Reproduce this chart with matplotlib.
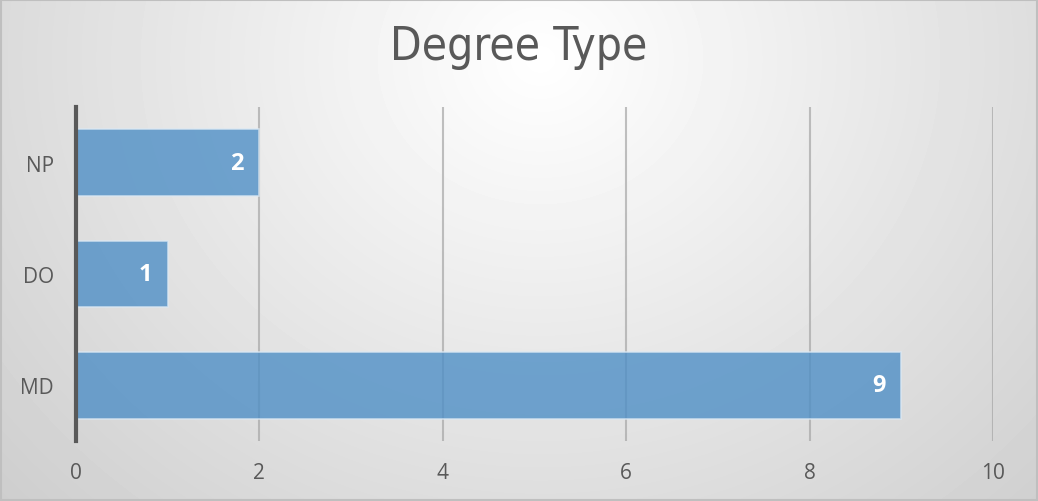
import numpy as np
import matplotlib
matplotlib.use("Agg")
import matplotlib.pyplot as plt

# ---------------------------------------------------------------------
# Data
# ---------------------------------------------------------------------
categories = ["MD", "DO", "NP"]
counts = [9, 1, 2]
x_ticks = [0, 2, 4, 6, 8, 10]

text_color = "#595959"

# ---------------------------------------------------------------------
# Figure + radial background
# ---------------------------------------------------------------------
fig = plt.figure(figsize=(10.38, 5.02), dpi=100)

bg = fig.add_axes([0, 0, 1, 1], zorder=0)
yy, xx = np.mgrid[0:502, 0:1038]
r = np.sqrt(((xx - 540) / 720.0) ** 2 + ((yy - 60) / 640.0) ** 2)
shade = 1.0 - 0.19 * np.clip(r, 0, 1.2)
bg.imshow(shade, cmap="gray", vmin=0, vmax=1, aspect="auto",
          extent=[0, 1, 0, 1], interpolation="bilinear")
bg.set_xlim(0, 1)
bg.set_ylim(0, 1)
bg.axis("off")
bg.add_patch(plt.Rectangle((0.001, 0.002), 0.998, 0.996, fill=False,
                           edgecolor="#bfbfbf", lw=1.5,
                           transform=bg.transAxes))

# ---------------------------------------------------------------------
# Bars
# ---------------------------------------------------------------------
ax = fig.add_axes([0.0732, 0.1195, 0.8834, 0.6655], zorder=1)
ax.patch.set_alpha(0)

ypos = np.arange(len(categories))
bars = ax.barh(ypos, counts, height=0.6, color="#4f8fc6", alpha=0.8,
               edgecolor="#dbe8f3", linewidth=1.2, zorder=3)

for b, v in zip(bars, counts):
    ax.text(b.get_width() - 0.17, b.get_y() + b.get_height() / 2, str(v),
            ha="right", va="center", color="white", fontsize=17,
            fontweight="bold", family="Open Sans", zorder=4)

ax.set_xlim(0, 10)
ax.set_ylim(-0.5, 2.5)
ax.set_xticks(x_ticks)
ax.set_yticks(ypos)
ax.set_yticklabels(categories)
ax.tick_params(length=0, labelsize=15, labelcolor=text_color)
ax.tick_params(axis="y", pad=16)
ax.tick_params(axis="x", pad=15)
for lab in ax.get_xticklabels() + ax.get_yticklabels():
    lab.set_family("Open Sans")

ax.xaxis.grid(True, color="#a6a6a6", lw=1.5, alpha=0.7, zorder=1)
ax.set_axisbelow(True)
for s in ["top", "right", "bottom"]:
    ax.spines[s].set_visible(False)
ax.spines["left"].set_color(text_color)
ax.spines["left"].set_linewidth(3)
ax.spines["left"].set_zorder(5)

fig.text(0.5, 0.905, "Degree Type", ha="center", va="center",
         fontsize=33, color=text_color, family="DejaVu Sans",
         fontstretch="condensed")

fig.savefig("out.png", dpi=100)
